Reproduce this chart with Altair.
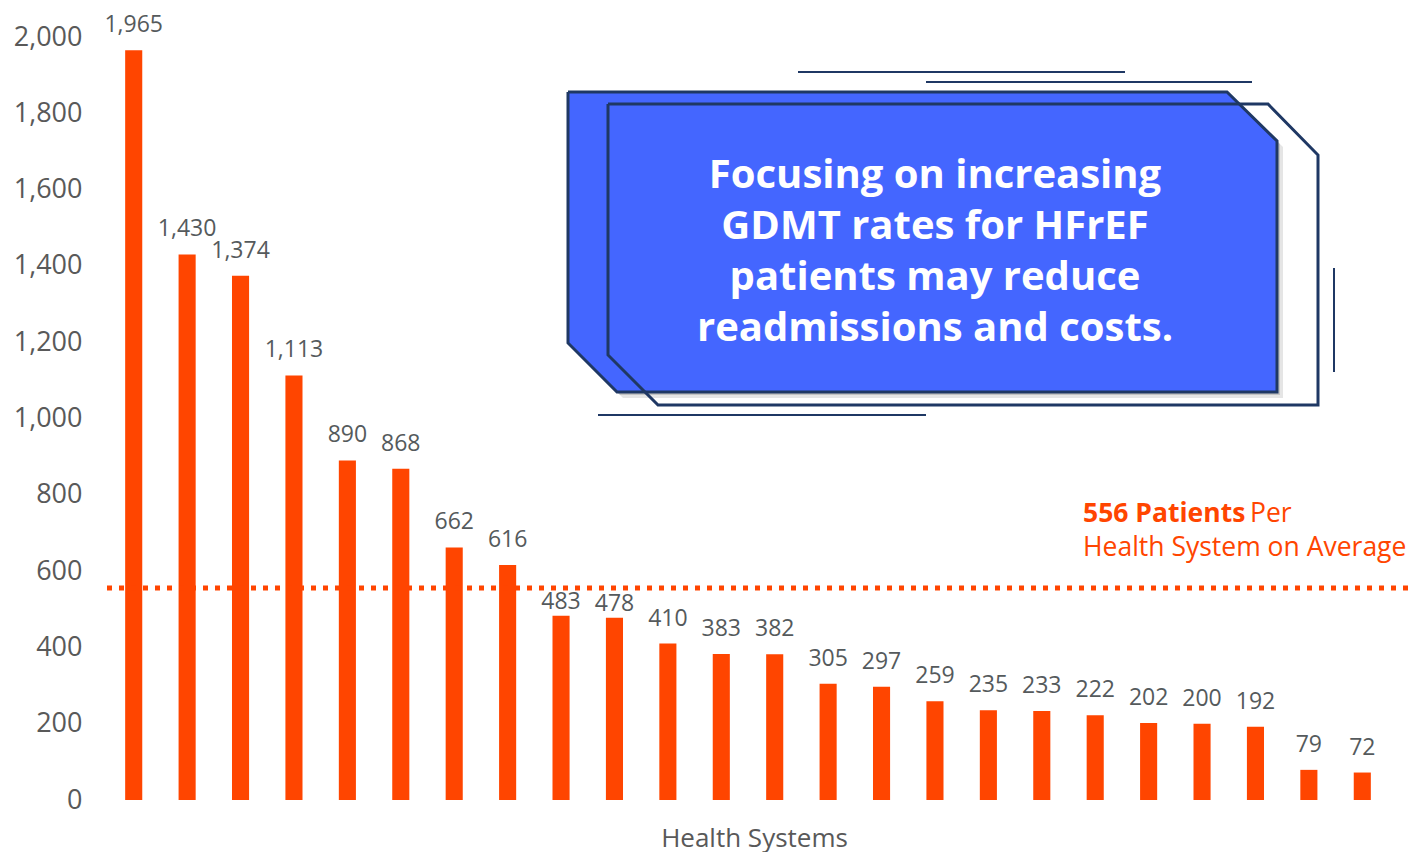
import altair as alt
import pandas as pd

# ---- data -------------------------------------------------------------
systems = [f"System {i}" for i in range(1, 25)]
patients = [1965, 1430, 1374, 1113, 890, 868, 662, 616, 483, 478, 410, 383,
            382, 305, 297, 259, 235, 233, 222, 202, 200, 192, 79, 72]
y_ticks = [0, 200, 400, 600, 800, 1000, 1200, 1400, 1600, 1800, 2000]
average = 556
avg_line2 = "Health System on Average"
callout_lines = ["Focusing on increasing", "GDMT rates for HFrEF",
                 "patients may reduce", "readmissions and costs."]

# ---- layout & style ---------------------------------------------------
W, H = 1282, 763
PAD = {"left": 107, "top": 37, "right": 24, "bottom": 52}
ORANGE = "#FF4500"
GREY = "#595959"
LABEL_GREY = "#555A5C"
NAVY = "#1F3864"
BLUE = "#4466FF"
FONT = "Open Sans"

df = pd.DataFrame({"system": systems, "patients": patients})
avg_df = pd.DataFrame({"avg": [average]})

x_band = alt.X(
    "system:N", sort=None,
    scale=alt.Scale(paddingInner=0.68, paddingOuter=0.34),
    axis=alt.Axis(labels=False, ticks=False, domain=False, grid=False,
                  title="Health Systems", titleFont=FONT, titleFontSize=26,
                  titleFontWeight="normal", titleColor=GREY, titlePadding=25,
                  titleX=647),
)
y_axis = alt.Axis(values=y_ticks, labelExpr="format(datum.value, ',')",
                  ticks=False, tickSize=0, domain=False, grid=False,
                  labelFont=FONT, labelFontSize=27, labelColor=GREY,
                  labelPadding=25)
y_scale = alt.Scale(domain=[0, 2000], nice=False)
y_lin = alt.Y("patients:Q", title=None, scale=y_scale, axis=y_axis)

bars = alt.Chart(df).mark_bar(color=ORANGE).encode(x=x_band, y=y_lin)

# value labels; the ones that would sit on the average line drop a little
near_avg = f"datum.patients < {average} && datum.patients > {average} - 100"
label_style = dict(baseline="alphabetic", font=FONT, fontSize=23, color=LABEL_GREY)
bar_labels = alt.Chart(df).transform_filter(f"!({near_avg})").mark_text(
    dy=-18, **label_style
).encode(x=x_band, y=y_lin, text=alt.Text("patients:Q", format=","))
bar_labels_low = alt.Chart(df).transform_filter(near_avg).mark_text(
    dy=-7, **label_style
).encode(x=x_band, y=y_lin, text=alt.Text("patients:Q", format=","))

avg_y = alt.Y("avg:Q", title=None, scale=y_scale, axis=y_axis)
avg_rule = alt.Chart(avg_df).mark_rule(
    color=ORANGE, strokeWidth=5, strokeDash=[5, 7]
).encode(y=avg_y, x=alt.value(0), x2=alt.value(1303))

avg_bold = alt.Chart(avg_df).transform_calculate(
    label="datum.avg + ' Patients'"
).mark_text(
    align="left", baseline="alphabetic", dy=-66, font=FONT, fontSize=26.5,
    fontWeight="bold", color=ORANGE
).encode(y=avg_y, x=alt.value(976), text="label:N")

avg_per = alt.Chart(avg_df).mark_text(
    align="left", baseline="alphabetic", dy=-66, font=FONT, fontSize=26.5,
    color=ORANGE
).encode(y=avg_y, x=alt.value(1143), text=alt.value("Per"))

avg_second = alt.Chart(avg_df).mark_text(
    align="left", baseline="alphabetic", dy=-32, font=FONT, fontSize=26.5,
    color=ORANGE
).encode(y=avg_y, x=alt.value(976), text=alt.value(avg_line2))

base = alt.layer(bars, bar_labels, bar_labels_low, avg_rule,
                 avg_bold, avg_per, avg_second)

# ---- callout box, drawn on pixel scales of the plot area ---------------
px_x = alt.Scale(domain=[0, W], nice=False, zero=False)
px_y = alt.Scale(domain=[0, H], nice=False, zero=False, reverse=True)

def X(f):
    return alt.X(f, scale=px_x, axis=None)

def Y(f):
    return alt.Y(f, scale=px_y, axis=None)

front = [(461, 55), (1120, 55), (1170, 104), (1170, 355), (510, 355), (461, 306)]
back = [(501, 67), (1161, 67), (1211, 118), (1211, 368), (551, 368), (501, 318)]

# front panel as a top/bottom profile for the area mark
profile = pd.DataFrame({
    "px": [461, 510, 1120, 1170],
    "top": [55, 55, 55, 104],
    "bottom": [306, 355, 355, 355],
})

shadows = []
for off, op in [(6, 0.10), (3, 0.14)]:
    sh = profile.assign(px=profile.px + off, top=profile.top + off,
                        bottom=profile.bottom + off)
    shadows.append(
        alt.Chart(sh).mark_area(color="#000000", opacity=op, interpolate="linear")
        .encode(x=X("px:Q"), y=Y("top:Q"), y2="bottom:Q")
    )

panel = alt.Chart(profile).mark_area(color=BLUE, opacity=1, interpolate="linear").encode(
    x=X("px:Q"), y=Y("top:Q"), y2="bottom:Q"
)

rows = []
for name, poly in [("front", front), ("back", back)]:
    for i, (x, y) in enumerate(poly + [poly[0]]):
        rows.append({"shape": name, "order": i, "px": x, "py": y})
outline = alt.Chart(pd.DataFrame(rows)).mark_line(
    color=NAVY, strokeWidth=3, strokeJoin="miter"
).encode(x=X("px:Q"), y=Y("py:Q"), detail="shape:N", order="order:Q")

deco = pd.DataFrame({
    "px": [691, 819, 491, 1227],
    "px2": [1018, 1145, 819, 1227],
    "py": [35, 45, 378, 231],
    "py2": [35, 45, 378, 335],
})
deco_lines = alt.Chart(deco).mark_rule(color=NAVY, strokeWidth=2).encode(
    x=X("px:Q"), x2="px2:Q", y=Y("py:Q"), y2="py2:Q"
)

text_df = pd.DataFrame({
    "line": callout_lines,
    "px": [828] * len(callout_lines),
    "py": [151 + 51 * i for i in range(len(callout_lines))],
})
callout_text = alt.Chart(text_df).mark_text(
    align="center", baseline="alphabetic", font=FONT, fontSize=40,
    fontWeight="bold", color="white"
).encode(x=X("px:Q"), y=Y("py:Q"), text="line:N")

overlay = alt.layer(*shadows, panel, outline, deco_lines, callout_text)

chart = alt.layer(base, overlay).resolve_scale(
    x="independent", y="independent"
).properties(
    width=W, height=H,
    autosize=alt.AutoSizeParams(type="none"),
    padding=PAD,
    background="white",
).configure_view(stroke=None)

chart.save("out.html", embed_options={"renderer": "svg", "actions": False})
